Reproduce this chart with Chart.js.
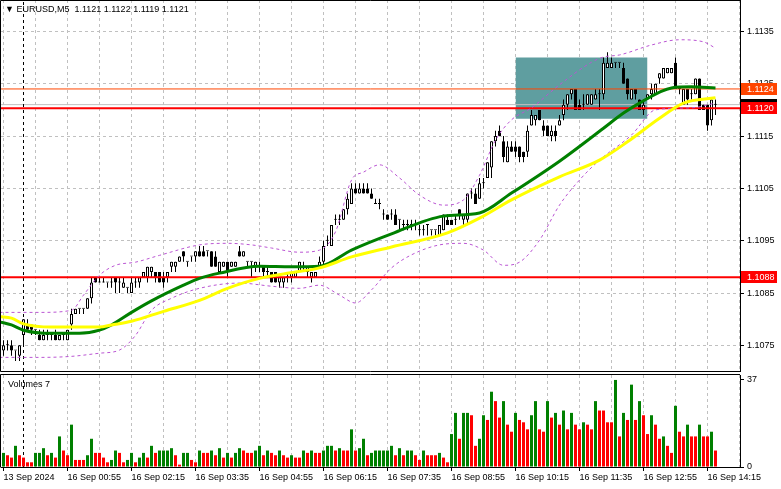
<!DOCTYPE html>
<html>
<head>
<meta charset="utf-8">
<title>EURUSD M5</title>
<script src="https://cdn.jsdelivr.net/npm/chart.js@4.4.1/dist/chart.umd.min.js"></script>
<style>
  html, body { margin: 0; padding: 0; background: #fff; }
  #wrap { position: relative; width: 781px; height: 489px; overflow: hidden; font-family: "Liberation Sans", Arial, "DejaVu Sans", sans-serif; }
  canvas { position: absolute; left: 0; }
  #priceChart { top: 0; }
  #volChart { top: 372px; }
  .txt { position: absolute; font-size: 9px; line-height: 11px; color: #000; white-space: pre; }
</style>
</head>
<body>
<div id="wrap">
  <canvas id="priceChart" width="781" height="372"></canvas>
  <canvas id="volChart" width="781" height="117"></canvas>
  <div class="txt" style="left:5px; top:4px;">▼ EURUSD,M5  1.1121 1.1122 1.1119 1.1121</div>
  <div class="txt" style="left:8px; top:379px;">Volumes 7</div>
</div>
<script>
// M5 bars, 13 Sep 23:35 .. 16 Sep 14:25 (index 0 = first bar on screen)
const openP = [
  1.1074, 1.1075, 1.1075, 1.1074, 1.1073, 1.1077, 1.1079, 1.1079, 1.1078, 1.1077,
  1.1076, 1.1077, 1.1077, 1.1077, 1.1076, 1.1077, 1.1076, 1.1079, 1.1081, 1.1082,
  1.1082, 1.1082, 1.1084, 1.1088, 1.1087, 1.1087, 1.1087, 1.1087, 1.1088, 1.1087,
  1.1086, 1.1086, 1.1085, 1.1087, 1.1087, 1.1088, 1.1088, 1.1089, 1.1089, 1.1089,
  1.1088, 1.1088, 1.1090, 1.1090, 1.1091, 1.1093, 1.1091, 1.1092, 1.1092, 1.1093,
  1.1093, 1.1093, 1.1093, 1.1092, 1.1089, 1.1090, 1.1091, 1.1090, 1.1090, 1.1093,
  1.1092, 1.1091, 1.1091, 1.1090, 1.1090, 1.1090, 1.1089, 1.1089, 1.1089, 1.1087,
  1.1087, 1.1088, 1.1088, 1.1088, 1.1089, 1.1090, 1.1089, 1.1088, 1.1088, 1.1090,
  1.1091, 1.1095, 1.1094, 1.1099, 1.1099, 1.1099, 1.1101, 1.1102, 1.1105, 1.1104,
  1.1105, 1.1105, 1.1104, 1.1102, 1.1102, 1.1100, 1.1100, 1.1100, 1.1100, 1.1099,
  1.1098, 1.1098, 1.1098, 1.1098, 1.1097, 1.1097, 1.1098, 1.1097, 1.1097, 1.1096,
  1.1097, 1.1099, 1.1099, 1.1099, 1.1101, 1.1099, 1.1099, 1.1104, 1.1104, 1.1103,
  1.1106, 1.1107, 1.1109, 1.1114, 1.1116, 1.1114, 1.1110, 1.1113, 1.1113, 1.1113,
  1.1112, 1.1112, 1.1117, 1.1118, 1.1120, 1.1117, 1.1117, 1.1115, 1.1116, 1.1117,
  1.1119, 1.1121, 1.1123, 1.1124, 1.1121, 1.1121, 1.1121, 1.1121, 1.1122, 1.1123,
  1.1123, 1.1128, 1.1128, 1.1129, 1.1129, 1.1128, 1.1126, 1.1122, 1.1124, 1.1122,
  1.1120, 1.1122, 1.1123, 1.1123, 1.1126, 1.1126, 1.1127, 1.1127, 1.1129, 1.1124,
  1.1121, 1.1124, 1.1123, 1.1123, 1.1126, 1.1121, 1.1121, 1.1118, 1.1121
];
const highP = [
  1.1076, 1.1076, 1.1076, 1.1074, 1.1075, 1.1080, 1.1080, 1.1079, 1.1078, 1.1078,
  1.1078, 1.1078, 1.1077, 1.1078, 1.1077, 1.1077, 1.1078, 1.1082, 1.1082, 1.1082,
  1.1082, 1.1084, 1.1088, 1.1088, 1.1088, 1.1088, 1.1087, 1.1088, 1.1088, 1.1088,
  1.1088, 1.1086, 1.1088, 1.1088, 1.1088, 1.1089, 1.1090, 1.1090, 1.1089, 1.1089,
  1.1089, 1.1089, 1.1091, 1.1091, 1.1092, 1.1093, 1.1091, 1.1092, 1.1093, 1.1094,
  1.1094, 1.1093, 1.1093, 1.1093, 1.1091, 1.1091, 1.1091, 1.1091, 1.1091, 1.1094,
  1.1093, 1.1091, 1.1091, 1.1091, 1.1091, 1.1090, 1.1090, 1.1089, 1.1089, 1.1088,
  1.1088, 1.1089, 1.1089, 1.1089, 1.1091, 1.1091, 1.1090, 1.1089, 1.1089, 1.1092,
  1.1095, 1.1096, 1.1098, 1.1100, 1.1100, 1.1101, 1.1104, 1.1106, 1.1106, 1.1106,
  1.1106, 1.1106, 1.1105, 1.1103, 1.1103, 1.1101, 1.1100, 1.1101, 1.1101, 1.1099,
  1.1099, 1.1099, 1.1099, 1.1099, 1.1098, 1.1098, 1.1098, 1.1097, 1.1097, 1.1098,
  1.1100, 1.1100, 1.1099, 1.1100, 1.1101, 1.1100, 1.1104, 1.1105, 1.1105, 1.1107,
  1.1107, 1.1110, 1.1114, 1.1116, 1.1117, 1.1115, 1.1114, 1.1114, 1.1114, 1.1113,
  1.1112, 1.1117, 1.1120, 1.1119, 1.1120, 1.1118, 1.1117, 1.1117, 1.1117, 1.1119,
  1.1122, 1.1123, 1.1124, 1.1124, 1.1122, 1.1123, 1.1123, 1.1123, 1.1124, 1.1124,
  1.1130, 1.1131, 1.1130, 1.1129, 1.1129, 1.1129, 1.1126, 1.1124, 1.1124, 1.1122,
  1.1122, 1.1123, 1.1125, 1.1125, 1.1127, 1.1128, 1.1128, 1.1128, 1.1130, 1.1124,
  1.1124, 1.1124, 1.1124, 1.1126, 1.1126, 1.1121, 1.1121, 1.1122, 1.1122
];
const lowP = [
  1.1073, 1.1074, 1.1073, 1.1072, 1.1072, 1.1075, 1.1078, 1.1077, 1.1077, 1.1076,
  1.1076, 1.1076, 1.1076, 1.1076, 1.1076, 1.1076, 1.1076, 1.1078, 1.1081, 1.1081,
  1.1081, 1.1082, 1.1083, 1.1087, 1.1087, 1.1087, 1.1086, 1.1086, 1.1085, 1.1085,
  1.1086, 1.1085, 1.1085, 1.1086, 1.1086, 1.1088, 1.1087, 1.1088, 1.1087, 1.1087,
  1.1086, 1.1087, 1.1089, 1.1089, 1.1091, 1.1091, 1.1090, 1.1091, 1.1091, 1.1092,
  1.1092, 1.1092, 1.1090, 1.1090, 1.1089, 1.1090, 1.1088, 1.1090, 1.1090, 1.1092,
  1.1092, 1.1090, 1.1088, 1.1089, 1.1089, 1.1088, 1.1088, 1.1087, 1.1087, 1.1086,
  1.1086, 1.1087, 1.1087, 1.1088, 1.1089, 1.1089, 1.1088, 1.1087, 1.1088, 1.1090,
  1.1090, 1.1094, 1.1094, 1.1098, 1.1098, 1.1099, 1.1100, 1.1102, 1.1104, 1.1104,
  1.1104, 1.1104, 1.1103, 1.1102, 1.1101, 1.1099, 1.1099, 1.1099, 1.1098, 1.1097,
  1.1097, 1.1097, 1.1097, 1.1097, 1.1096, 1.1096, 1.1096, 1.1096, 1.1096, 1.1096,
  1.1097, 1.1098, 1.1098, 1.1098, 1.1099, 1.1098, 1.1098, 1.1103, 1.1102, 1.1103,
  1.1105, 1.1107, 1.1107, 1.1113, 1.1115, 1.1110, 1.1110, 1.1112, 1.1111, 1.1110,
  1.1110, 1.1111, 1.1117, 1.1117, 1.1118, 1.1115, 1.1115, 1.1114, 1.1114, 1.1117,
  1.1118, 1.1120, 1.1122, 1.1120, 1.1120, 1.1120, 1.1121, 1.1121, 1.1122, 1.1120,
  1.1122, 1.1128, 1.1128, 1.1128, 1.1128, 1.1125, 1.1122, 1.1122, 1.1122, 1.1120,
  1.1119, 1.1122, 1.1122, 1.1123, 1.1125, 1.1126, 1.1127, 1.1127, 1.1124, 1.1123,
  1.1121, 1.1121, 1.1122, 1.1123, 1.1120, 1.1120, 1.1116, 1.1117, 1.1119
];
const closeP = [
  1.1075, 1.1075, 1.1074, 1.1074, 1.1075, 1.1080, 1.1078, 1.1078, 1.1078, 1.1076,
  1.1077, 1.1077, 1.1077, 1.1076, 1.1077, 1.1077, 1.1078, 1.1081, 1.1082, 1.1082,
  1.1082, 1.1084, 1.1087, 1.1087, 1.1087, 1.1087, 1.1087, 1.1087, 1.1087, 1.1087,
  1.1087, 1.1086, 1.1087, 1.1087, 1.1088, 1.1089, 1.1090, 1.1090, 1.1088, 1.1087,
  1.1087, 1.1089, 1.1091, 1.1091, 1.1092, 1.1092, 1.1091, 1.1092, 1.1093, 1.1092,
  1.1092, 1.1093, 1.1090, 1.1090, 1.1091, 1.1091, 1.1089, 1.1091, 1.1091, 1.1092,
  1.1093, 1.1091, 1.1091, 1.1091, 1.1090, 1.1089, 1.1089, 1.1087, 1.1087, 1.1088,
  1.1088, 1.1088, 1.1089, 1.1089, 1.1091, 1.1090, 1.1090, 1.1089, 1.1089, 1.1091,
  1.1094, 1.1095, 1.1098, 1.1099, 1.1099, 1.1101, 1.1103, 1.1105, 1.1104, 1.1105,
  1.1104, 1.1104, 1.1103, 1.1102, 1.1102, 1.1100, 1.1099, 1.1100, 1.1098, 1.1099,
  1.1098, 1.1098, 1.1098, 1.1098, 1.1097, 1.1097, 1.1098, 1.1097, 1.1097, 1.1098,
  1.1100, 1.1098, 1.1098, 1.1099, 1.1100, 1.1100, 1.1104, 1.1104, 1.1102, 1.1106,
  1.1106, 1.1110, 1.1114, 1.1115, 1.1115, 1.1111, 1.1113, 1.1112, 1.1112, 1.1111,
  1.1111, 1.1116, 1.1119, 1.1119, 1.1118, 1.1116, 1.1115, 1.1116, 1.1115, 1.1118,
  1.1121, 1.1123, 1.1124, 1.1120, 1.1120, 1.1121, 1.1123, 1.1123, 1.1123, 1.1123,
  1.1129, 1.1129, 1.1129, 1.1129, 1.1129, 1.1125, 1.1123, 1.1124, 1.1123, 1.1120,
  1.1121, 1.1123, 1.1124, 1.1125, 1.1127, 1.1128, 1.1128, 1.1128, 1.1124, 1.1124,
  1.1124, 1.1122, 1.1123, 1.1126, 1.1120, 1.1120, 1.1117, 1.1122, 1.1121
];

// tick volumes, and whether each bar's volume rose (u) or fell (d) against the bar before
const volumes = [
  6, 5, 4, 9, 5, 4, 2, 2, 6, 6,
  8, 5, 6, 4, 13, 7, 5, 18, 3, 3,
  3, 5, 12, 6, 6, 4, 2, 3, 7, 6,
  2, 3, 6, 2, 4, 6, 4, 9, 6, 7,
  7, 7, 8, 5, 1, 6, 6, 3, 2, 7,
  6, 6, 7, 5, 8, 4, 6, 4, 6, 8,
  7, 6, 6, 7, 9, 5, 7, 6, 5, 7,
  5, 4, 5, 4, 4, 7, 6, 7, 6, 6,
  7, 9, 9, 7, 8, 7, 7, 16, 7, 8,
  12, 5, 6, 7, 7, 7, 7, 9, 5, 8,
  5, 7, 7, 5, 3, 7, 5, 5, 5, 6,
  4, 2, 14, 23, 12, 23, 23, 22, 9, 12,
  22, 20, 32, 28, 21, 28, 18, 15, 23, 20,
  19, 16, 22, 28, 16, 15, 28, 21, 23, 18,
  24, 16, 23, 18, 16, 19, 18, 16, 28, 24,
  24, 19, 19, 37, 13, 23, 20, 35, 20, 28,
  22, 14, 22, 18, 12, 13, 9, 6, 26, 15,
  13, 18, 13, 13, 18, 13, 13, 15, 7
];
const volDir = [
  'uddudddduu', 'udududdudd', 'duudddduud', 'duuduududu',
  'uuudduuddu', 'ddudududuu', 'ddduududdu', 'dduddududd',
  'uuududdudu', 'uduuuuuudu', 'duuddudddu', 'dduuduuddu',
  'ududduddud', 'dduuddudud', 'ududduddud', 'dddudududu',
  'ddudduddud', 'dudduddud'
].join('');

// moving averages (green fast, yellow slow), read at bar indices
const greenIdx = [-1, 2, 5, 12, 19, 24, 27, 32, 37, 45, 49, 54, 64, 72, 79, 87, 97, 110, 119, 127, 139, 150, 155, 159, 167, 172, 178];
const greenMA = [1.10795, 1.10789, 1.10779, 1.10773, 1.10773, 1.10779, 1.10789, 1.10813, 1.10835, 1.10865, 1.10878, 1.10888, 1.10901, 1.10900, 1.10901, 1.10932, 1.10963, 1.10997, 1.11003, 1.11041, 1.11102, 1.11165, 1.11194, 1.11213, 1.11242, 1.11244, 1.11242];
const yellowIdx = [-1, 2, 5, 12, 24, 27, 32, 40, 49, 56, 64, 73, 79, 87, 97, 111, 119, 127, 139, 149, 156, 164, 170, 178];
const yellowMA = [1.10805, 1.10802, 1.10791, 1.10785, 1.10785, 1.10789, 1.10796, 1.10815, 1.10836, 1.10859, 1.10878, 1.10890, 1.10898, 1.10919, 1.10938, 1.10965, 1.10993, 1.11028, 1.11072, 1.11104, 1.11139, 1.11184, 1.11213, 1.11223];

// envelope bands
const upperIdx = [-1, 9, 17, 20, 24, 28, 33, 39, 49, 56, 62, 67, 74, 79, 83, 87, 90, 94, 99, 104, 110, 115, 119, 123, 127, 132, 139, 147, 150, 154, 162, 169, 175, 178];
const upperBand = [1.10813, 1.10813, 1.10817, 1.10846, 1.10884, 1.10903, 1.10909, 1.10922, 1.10942, 1.10945, 1.10942, 1.10936, 1.10928, 1.10932, 1.10967, 1.11066, 1.11081, 1.11095, 1.11070, 1.11037, 1.11018, 1.11028, 1.11075, 1.11142, 1.11181, 1.11204, 1.11248, 1.11291, 1.11301, 1.11305, 1.11324, 1.11334, 1.11330, 1.11318];
const lowerIdx = [-1, 9, 17, 24, 29, 33, 37, 42, 49, 59, 67, 74, 79, 84, 88, 92, 97, 102, 109, 115, 120, 125, 129, 134, 139, 144, 149, 157, 163, 172, 178];
const lowerBand = [1.10727, 1.10727, 1.10729, 1.10735, 1.10741, 1.10769, 1.10817, 1.10840, 1.10859, 1.10869, 1.10863, 1.10859, 1.10865, 1.10846, 1.10831, 1.10856, 1.10898, 1.10923, 1.10942, 1.10945, 1.10932, 1.10903, 1.10909, 1.10951, 1.11018, 1.11066, 1.11104, 1.11152, 1.11200, 1.11204, 1.11213];

// horizontal levels and the shaded zone
const redLevels = [1.11203, 1.1088];
const orangeLevel = 1.1124;
const zoneTime = [128, 161];
const zonePrice = [1.11183, 1.1130];
const separatorIdx = 5; // 16 Sep 00:00

// axis ticks
const priceTicks = [1.1075, 1.1085, 1.1095, 1.1105, 1.1115, 1.1125, 1.1135];
const volTicks = [0, 37];
const tickIdx = [0, 16, 32, 48, 64, 80, 96, 112, 128, 144, 160, 176];
const tickLabels = ['13 Sep 2024', '16 Sep 00:55', '16 Sep 02:15', '16 Sep 03:35', '16 Sep 04:55', '16 Sep 06:15',
  '16 Sep 07:35', '16 Sep 08:55', '16 Sep 10:15', '16 Sep 11:35', '16 Sep 12:55', '16 Sep 14:15'];

Chart.defaults.font.family = '"Liberation Sans", Arial, sans-serif';
Chart.defaults.font.size = 9;
Chart.defaults.color = '#000';

const xMin = -0.625, xMax = 184.125;     // 4 px per bar
const priceMin = 1.10701, priceMax = 1.11410;
const volMax = 39.1;

const barIdx = openP.map((_, i) => i);
const lastClose = closeP[closeP.length - 1];
const gridIdx = [];
for (let g = 0; g <= 184; g += 8) gridIdx.push(g);

const pts = (idx, vals) => idx.map((x, k) => ({ x: x, y: vals[k] }));
const hLine = v => [{ x: xMin, y: v }, { x: xMax, y: v }];

// keep the plot area exactly where the axes say, no label overhang padding
const noPad = a => { a.paddingTop = 0; a.paddingBottom = 0; a.paddingLeft = 0; a.paddingRight = 0; };

const framePlugin = {
  id: 'frame',
  afterDraw(chart, args, opts) {
    const a = chart.chartArea, ctx = chart.ctx;
    const top = a.top + opts.topOffset;
    ctx.save();
    ctx.strokeStyle = '#000';
    ctx.lineWidth = 1;
    ctx.beginPath();
    ctx.moveTo(a.left - 0.5, a.bottom + 0.5);
    ctx.lineTo(a.left - 0.5, top);
    ctx.lineTo(a.right, top);
    if (opts.bottom) {
      ctx.moveTo(a.left - 0.5, a.bottom + 0.5);
      ctx.lineTo(a.right, a.bottom + 0.5);
    }
    ctx.stroke();
    ctx.restore();
  }
};

const tagPlugin = {
  id: 'tags',
  afterDraw(chart) {
    const { ctx, chartArea } = chart;
    const y = chart.scales.y;
    const tags = [
      { v: lastClose, bg: '#000000' },
      { v: redLevels[0], bg: '#ff0000' },
      { v: orangeLevel, bg: '#ff4500' },
      { v: redLevels[1], bg: '#ff0000' }
    ];
    ctx.save();
    ctx.font = '9px "Liberation Sans", Arial, sans-serif';
    ctx.textBaseline = 'middle';
    tags.forEach(t => {
      const py = Math.round(y.getPixelForValue(t.v));
      ctx.fillStyle = t.bg;
      ctx.fillRect(chartArea.right + 1, py - 6, 36, 12);
      ctx.fillStyle = '#ffffff';
      ctx.fillText(t.v.toFixed(4), chartArea.right + 7, py + 0.5);
    });
    ctx.restore();
  }
};

new Chart(document.getElementById('priceChart'), {
  type: 'bar',
  data: {
    datasets: [
      { type: 'line', data: [{ x: zoneTime[0], y: zonePrice[1] }, { x: zoneTime[1], y: zonePrice[1] }],
        fill: { value: zonePrice[0] }, backgroundColor: '#5f9ea0', borderWidth: 0, pointRadius: 0, order: 10 },
      { type: 'line', data: hLine(lastClose), borderColor: '#c0c0c0', borderWidth: 1, pointRadius: 0, order: 9 },
      { type: 'line', data: [{ x: separatorIdx, y: priceMin }, { x: separatorIdx, y: priceMax }],
        borderColor: '#000', borderWidth: 1, borderDash: [3, 3], pointRadius: 0, order: 8 },
      { type: 'bar', data: barIdx.map(i => ({ x: i, y: [lowP[i], highP[i]] })),
        backgroundColor: '#000', borderWidth: 0, barThickness: 1, minBarLength: 1,
        grouped: false, inflateAmount: 0, order: 4 },
      { type: 'bar', data: barIdx.map(i => ({ x: i, y: [openP[i], closeP[i]] })),
        backgroundColor: c => (closeP[c.dataIndex] > openP[c.dataIndex] ? '#ffffff' : '#000000'),
        borderColor: '#000', borderWidth: 1, borderSkipped: false, barThickness: 3, minBarLength: 1,
        grouped: false, inflateAmount: 0, order: 3 },
      { type: 'line', data: hLine(redLevels[0]), borderColor: '#ff0000', borderWidth: 2, pointRadius: 0, order: 2 },
      { type: 'line', data: hLine(redLevels[1]), borderColor: '#ff0000', borderWidth: 2, pointRadius: 0, order: 2 },
      { type: 'line', data: hLine(orangeLevel), borderColor: '#ff4500', borderWidth: 1, pointRadius: 0, order: 2 },
      { type: 'line', data: pts(upperIdx, upperBand), borderColor: 'rgb(186,85,211)', borderWidth: 1,
        borderDash: [3, 3], pointRadius: 0, cubicInterpolationMode: 'monotone', order: 1 },
      { type: 'line', data: pts(lowerIdx, lowerBand), borderColor: 'rgb(186,85,211)', borderWidth: 1,
        borderDash: [3, 3], pointRadius: 0, cubicInterpolationMode: 'monotone', order: 1 },
      { type: 'line', data: pts(yellowIdx, yellowMA), borderColor: '#ffff00', borderWidth: 3,
        pointRadius: 0, cubicInterpolationMode: 'monotone', order: 0 },
      { type: 'line', data: pts(greenIdx, greenMA), borderColor: '#008000', borderWidth: 3,
        pointRadius: 0, cubicInterpolationMode: 'monotone', order: 0 }
    ]
  },
  options: {
    responsive: false,
    animation: false,
    events: [],
    layout: { padding: { left: 1, top: 0, right: 0, bottom: 0 } },
    plugins: {
      legend: { display: false },
      tooltip: { enabled: false },
      frame: { topOffset: 0.5, bottom: true }
    },
    scales: {
      x: {
        type: 'linear', min: xMin, max: xMax, offset: false,
        afterBuildTicks: a => { a.ticks = gridIdx.map(v => ({ value: v })); },
        afterFit: a => { a.height = 1; noPad(a); },
        ticks: { display: false },
        grid: { color: '#c0c0c0', drawTicks: false, offset: false },
        border: { display: false, dash: [3, 3] }
      },
      y: {
        type: 'linear', position: 'right', min: priceMin, max: priceMax,
        afterBuildTicks: a => { a.ticks = priceTicks.map(v => ({ value: v })); },
        afterFit: a => { a.width = 41; noPad(a); },
        ticks: { padding: 3, callback: v => v.toFixed(4) },
        grid: { color: '#c0c0c0', tickColor: '#000', tickLength: 4 },
        border: { color: '#000', dash: [3, 3] }
      }
    }
  },
  plugins: [framePlugin, tagPlugin]
});

new Chart(document.getElementById('volChart'), {
  type: 'bar',
  data: {
    datasets: [
      { type: 'line', data: [{ x: separatorIdx, y: 0 }, { x: separatorIdx, y: volMax }],
        borderColor: '#000', borderWidth: 1, borderDash: [3, 3], pointRadius: 0, order: 2 },
      { type: 'bar', data: barIdx.map(i => ({ x: i, y: volumes[i] })),
        backgroundColor: c => (volDir[c.dataIndex] === 'u' ? '#008000' : '#ff0000'),
        borderWidth: 0, barThickness: 3, grouped: false, inflateAmount: 0, order: 1 }
    ]
  },
  options: {
    responsive: false,
    animation: false,
    events: [],
    layout: { padding: { left: 1, top: 3, right: 0, bottom: 0 } },
    plugins: {
      legend: { display: false },
      tooltip: { enabled: false },
      frame: { topOffset: -0.5, bottom: false }
    },
    scales: {
      x: {
        type: 'linear', min: xMin, max: xMax, offset: false,
        afterBuildTicks: a => { a.ticks = gridIdx.map(v => ({ value: v })); },
        afterFit: a => { a.height = 22; noPad(a); },
        ticks: {
          autoSkip: false, maxRotation: 0, align: 'start', padding: 1,
          callback: v => { const k = tickIdx.indexOf(v); return k < 0 ? '' : tickLabels[k]; }
        },
        grid: {
          color: '#c0c0c0', tickLength: 4, offset: false,
          tickColor: c => (c.tick && tickIdx.includes(c.tick.value) ? '#000' : 'rgba(0,0,0,0)')
        },
        border: { color: '#000', dash: [3, 3] }
      },
      y: {
        type: 'linear', position: 'right', min: 0, max: volMax,
        afterBuildTicks: a => { a.ticks = volTicks.map(v => ({ value: v })); },
        afterFit: a => { a.width = 41; noPad(a); },
        ticks: { padding: 3 },
        grid: { drawOnChartArea: false, tickColor: '#000', tickLength: 4 },
        border: { color: '#000' }
      }
    }
  },
  plugins: [framePlugin]
});
</script>
</body>
</html>
